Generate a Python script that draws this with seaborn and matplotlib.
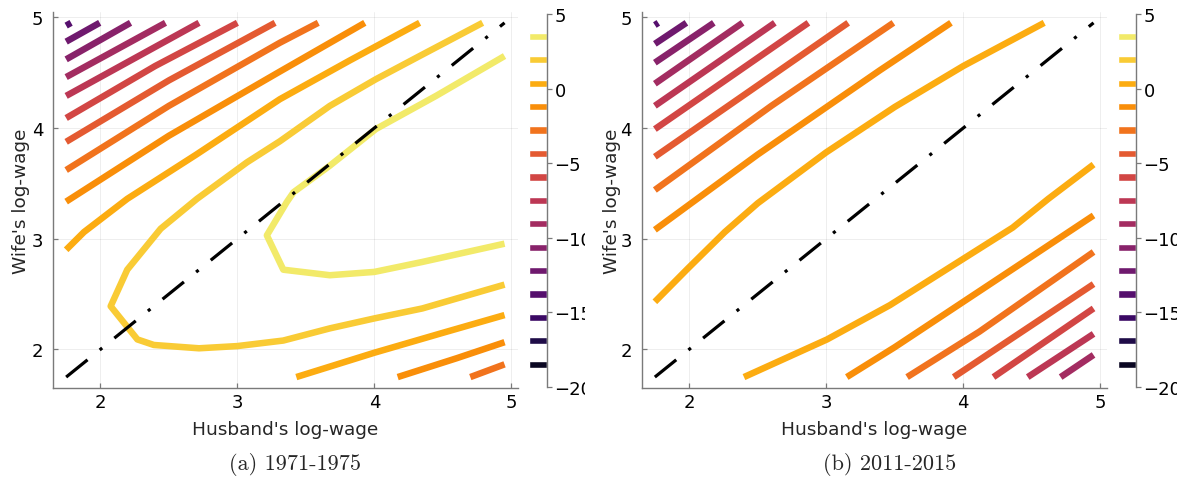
import numpy as np
import pandas as pd
import seaborn as sns
import matplotlib
matplotlib.use("Agg")
import matplotlib.pyplot as plt
from matplotlib.colors import Normalize
from matplotlib.transforms import Bbox, TransformedBbox

sns.set_theme(style="ticks")
plt.rcParams["font.family"] = ["DejaVu Sans"]

# contour levels
levels = [-18.48, -16.91, -15.34, -13.77, -12.20, -10.63, -9.06, -7.49,
          -5.92, -4.35, -2.78, -1.21, 0.36, 1.93, 3.50]
cbar_ticks = [-20, -15, -10, -5, 0, 5]
axis_ticks = [2, 3, 4, 5]
diag = [1.75, 4.95]
captions = ["(a) 1971-1975", "(b) 2011-2015"]

# panel (a) 1971-1975: traced contour lines (husband, wife)
a_350 = [(4.95, 4.65), (4.45, 4.29), (4.01, 3.99), (3.675, 3.66), (3.41, 3.42),
         (3.36, 3.33), (3.215, 3.03), (3.335, 2.72), (3.675, 2.67), (4.0, 2.70),
         (4.35, 2.79), (4.95, 2.955)]
a_193 = [(4.79, 4.95), (4.33, 4.65), (4.01, 4.44), (3.675, 4.20), (3.31, 3.88),
         (3.07, 3.69), (2.705, 3.36), (2.44, 3.09), (2.196, 2.72), (2.075, 2.39),
         (2.27, 2.09), (2.39, 2.04), (2.72, 2.01), (3.0, 2.03), (3.335, 2.08),
         (3.675, 2.19), (4.0, 2.28), (4.35, 2.37), (4.95, 2.585)]
a_036_up = [(1.75, 2.90), (1.88, 3.06), (2.196, 3.36), (2.7, 3.76), (3.31, 4.26),
            (3.82, 4.61), (4.33, 4.95)]
a_036_lo = [(3.43, 1.75), (4.0, 1.97), (4.5, 2.15), (4.95, 2.31)]
a_m121_up = [(1.75, 3.335), (2.5, 3.93), (3.31, 4.51), (3.93, 4.95)]
a_m121_lo = [(4.17, 1.75), (4.6, 1.92), (4.95, 2.065)]
a_m278_up = [(1.75, 3.62), (2.5, 4.2), (3.31, 4.77), (3.59, 4.95)]
a_m278_lo = [(4.70, 1.75), (4.95, 1.865)]
a_m435 = [(1.75, 3.875), (2.5, 4.43), (3.275, 4.95)]
a_m592 = [(1.75, 4.09), (2.4, 4.56), (3.0, 4.95)]
a_m749 = [(1.75, 4.29), (2.72, 4.95)]
a_m906 = [(1.75, 4.46), (2.475, 4.95)]
a_m1063 = [(1.75, 4.62), (2.22, 4.95)]
a_m1220 = [(1.75, 4.78), (1.995, 4.95)]
a_m1377 = [(1.75, 4.925), (1.786, 4.95)]

# panel (b) 2011-2015
b_036_up = [(1.75, 2.43), (1.99, 2.73), (2.26, 3.06), (2.5, 3.32), (3.0, 3.78),
            (3.5, 4.19), (4.0, 4.56), (4.59, 4.95)]
b_036_lo = [(2.40, 1.75), (3.006, 2.09), (3.465, 2.40), (4.117, 2.91),
            (4.36, 3.10), (4.62, 3.36), (4.95, 3.67)]
b_m121_up = [(1.75, 3.08), (2.5, 3.76), (3.39, 4.52), (3.91, 4.95)]
b_m121_lo = [(3.15, 1.75), (3.5, 2.02), (4.0, 2.43), (4.5, 2.84), (4.95, 3.21)]
b_m278_up = [(1.75, 3.44), (2.6, 4.2), (3.49, 4.95)]
b_m278_lo = [(3.59, 1.75), (4.117, 2.16), (4.95, 2.88)]
b_m435_up = [(1.75, 3.74), (3.16, 4.95)]
b_m435_lo = [(3.93, 1.75), (4.95, 2.59)]
b_m592_up = [(1.75, 3.99), (2.87, 4.95)]
b_m592_lo = [(4.22, 1.75), (4.95, 2.37)]
b_m749_up = [(1.75, 4.20), (2.625, 4.95)]
b_m749_lo = [(4.47, 1.75), (4.95, 2.14)]
b_m906_up = [(1.75, 4.40), (2.39, 4.95)]
b_m906_lo = [(4.71, 1.75), (4.95, 1.95)]
b_m1063 = [(1.75, 4.59), (2.18, 4.95)]
b_m1220 = [(1.75, 4.76), (1.98, 4.95)]
b_m1377 = [(1.75, 4.93), (1.775, 4.95)]

panel_a = [(3.50, a_350), (1.93, a_193), (0.36, a_036_up), (0.36, a_036_lo),
           (-1.21, a_m121_up), (-1.21, a_m121_lo), (-2.78, a_m278_up),
           (-2.78, a_m278_lo), (-4.35, a_m435), (-5.92, a_m592), (-7.49, a_m749),
           (-9.06, a_m906), (-10.63, a_m1063), (-12.20, a_m1220), (-13.77, a_m1377)]
panel_b = [(0.36, b_036_up), (0.36, b_036_lo), (-1.21, b_m121_up), (-1.21, b_m121_lo),
           (-2.78, b_m278_up), (-2.78, b_m278_lo), (-4.35, b_m435_up),
           (-4.35, b_m435_lo), (-5.92, b_m592_up), (-5.92, b_m592_lo),
           (-7.49, b_m749_up), (-7.49, b_m749_lo), (-9.06, b_m906_up),
           (-9.06, b_m906_lo), (-10.63, b_m1063), (-12.20, b_m1220), (-13.77, b_m1377)]


def to_frame(lines):
    rows = []
    for seg, (lvl, pts) in enumerate(lines):
        for x, y in pts:
            rows.append({"x": x, "y": y, "level": lvl, "seg": seg})
    return pd.DataFrame(rows)


cmap = sns.color_palette("inferno", as_cmap=True)
norm = Normalize(-20, 5)
spine_col = "#7a7a7a"

fig = plt.figure(figsize=(11.82, 4.85), dpi=100)
W, H = 1182, 485
ax_pos = [[53, 388.7, 464.7, 375.5], [641.7, 388.7, 465, 375.5]]
cax_pos = [[529, 388, 17.7, 373], [1117.7, 388, 18, 373]]
cap_x = [295, 890]
clip_x = [585, 1177]
caxes = []

for i, lines in enumerate([panel_a, panel_b]):
    l, b, w, h = ax_pos[i]
    ax = fig.add_axes([l / W, (H - b) / H, w / W, h / H])
    df = to_frame(lines)
    sns.lineplot(data=df, x="x", y="y", hue="level", units="seg", estimator=None,
                 sort=False, palette="inferno", hue_norm=(-20, 5), legend=False,
                 lw=4.7, solid_capstyle="butt", ax=ax)
    ax.plot(diag, diag, color="black", lw=2.3, ls=(0, (8.6, 4.9, 1, 4.9)),
            dash_capstyle="butt")
    ax.set_xlim(1.654, 5.046)
    ax.set_ylim(1.654, 5.046)
    ax.set_xticks(axis_ticks)
    ax.set_yticks(axis_ticks)
    ax.grid(True, color="black", alpha=0.08, lw=0.6)
    for s in ["top", "right"]:
        ax.spines[s].set_visible(False)
    for s in ["left", "bottom"]:
        ax.spines[s].set_color(spine_col)
        ax.spines[s].set_linewidth(1.0)
    ax.tick_params(direction="in", length=3.6, width=0.9, labelsize=13,
                   colors=spine_col, labelcolor="black")
    ax.tick_params(axis="x", pad=4)
    ax.tick_params(axis="y", pad=7)
    ax.set_xlabel("Husband's log-wage", fontsize=13.3)
    ax.set_ylabel("Wife's log-wage", fontsize=13.3)
    ax.xaxis.label.set_va("baseline")
    ax.xaxis.set_label_coords(0.5, -0.123)
    ax.yaxis.label.set_va("baseline")
    ax.yaxis.set_label_coords((26.5 - l) / w if i == 0 else (617 - l) / w, 0.5)

    # colorbar with one short bar per contour level
    cl, cb, cw, ch = cax_pos[i]
    cax = fig.add_axes([cl / W, (H - cb) / H, cw / W, ch / H])
    cax.barh(levels, width=1, height=0.48, left=0,
             color=[cmap(norm(v)) for v in levels])
    cax.set_xlim(0, 1)
    cax.set_ylim(-20, 5)
    for s in ["top", "left", "bottom"]:
        cax.spines[s].set_visible(False)
    cax.spines["right"].set_color(spine_col)
    cax.spines["right"].set_linewidth(1.0)
    cax.set_xticks([])
    cax.yaxis.tick_right()
    cax.set_yticks(cbar_ticks)
    cax.tick_params(axis="y", direction="out", length=3.6, width=0.9,
                    colors=spine_col, labelcolor="black", labelsize=13, pad=2)
    cax.set_facecolor("none")
    caxes.append(cax)

    fig.text(cap_x[i] / W, 20 / H, captions[i], family="cmr10", fontsize=16,
             ha="center", va="center")

# colorbar labels are cut off at the edge of each panel's image
fig.canvas.draw()
for cax, cx in zip(caxes, clip_x):
    clip = TransformedBbox(Bbox([[0, 0], [cx / W, 1]]), fig.transFigure)
    for tick in cax.yaxis.get_major_ticks():
        for lbl in (tick.label1, tick.label2):
            lbl.set_clip_on(True)
            lbl.set_clip_box(clip)

fig.savefig("out.png", dpi=100)
